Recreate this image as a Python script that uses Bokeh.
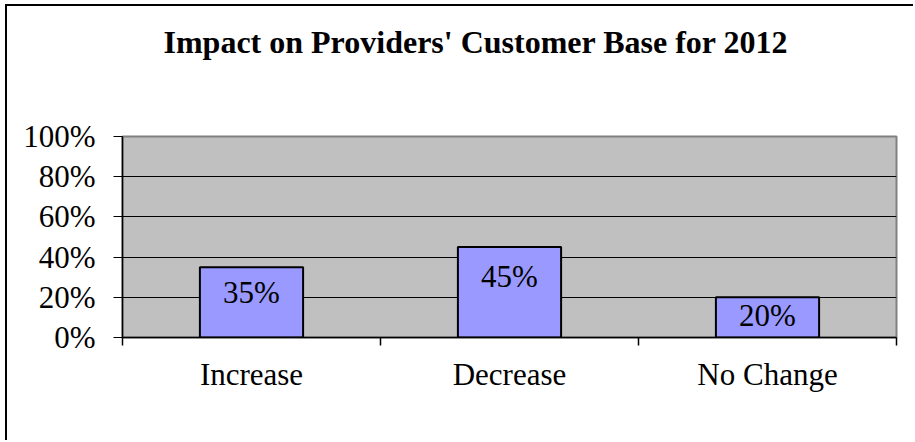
from bokeh.plotting import figure
from bokeh.models import Range1d, FixedTicker, NumeralTickFormatter, ColumnDataSource, Title
from bokeh.core.properties import value
from bokeh.embed import file_html
from bokeh.resources import INLINE

# ---- data ----
title_text = "Impact on Providers' Customer Base for 2012"
categories = ["Increase", "Decrease", "No Change"]
shares = [0.35, 0.45, 0.20]
y_ticks = [0.0, 0.2, 0.4, 0.6, 0.8, 1.0]

FONT = "Liberation Serif"

xpos = [i + 0.5 for i in range(len(categories))]
src = ColumnDataSource(dict(
    x=xpos,
    top=shares,
    label_y=[v * 0.78 for v in shares],
    label=[f"{round(v * 100)}%" for v in shares],
))

p = figure(width=908, height=436, output_backend="svg", toolbar_location=None,
           x_range=Range1d(0, len(categories)), y_range=Range1d(0, 1),
           min_border_left=115, min_border_right=19, min_border_top=130, min_border_bottom=105)
p.styles = {"margin-left": "5px", "margin-top": "4px",
            "border-left": "2px solid black", "border-top": "2px solid black"}

p.background_fill_color = "#C0C0C0"
p.border_fill_color = "white"
p.outline_line_color = "#808080"
p.outline_line_width = 2

# title
p.title.text = title_text
p.title.text_font = FONT
p.title.text_font_size = "32px"
p.title.text_font_style = "bold"
p.title.text_color = "black"
p.title.align = "left"
p.title.offset = 41
p.title.vertical_align = "top"
p.title.standoff = 24
# blank spacer between the title and the plot area
p.add_layout(Title(text=" ", text_font_size="1px", standoff=60), "above")

# grid
p.xgrid.visible = False
p.ygrid.ticker = FixedTicker(ticks=y_ticks[1:-1])
p.ygrid.grid_line_color = "black"
p.ygrid.grid_line_width = 1

# y axis
ya = p.yaxis[0]
ya.ticker = FixedTicker(ticks=y_ticks, minor_ticks=[])
ya.formatter = NumeralTickFormatter(format="0%")
ya.major_tick_out = 9
ya.major_tick_in = 0
ya.minor_tick_out = 0
ya.minor_tick_in = 0
ya.major_tick_line_color = "black"
ya.axis_line_color = "black"
ya.axis_line_width = 1.5
ya.major_label_text_font = FONT
ya.major_label_text_font_size = "31px"
ya.major_label_text_color = "black"
ya.major_label_standoff = 18

# x axis: labels at category centres, ticks at boundaries
xa = p.xaxis[0]
xa.ticker = FixedTicker(ticks=xpos, minor_ticks=list(range(len(categories) + 1)))
xa.major_label_overrides = {x: c for x, c in zip(xpos, categories)}
xa.major_tick_out = 0
xa.major_tick_in = 0
xa.minor_tick_out = 8
xa.minor_tick_in = 0
xa.minor_tick_line_color = "black"
xa.minor_tick_line_width = 1.5
xa.axis_line_color = "black"
xa.axis_line_width = 1.5
xa.major_label_text_font = FONT
xa.major_label_text_font_size = "31px"
xa.major_label_text_color = "black"
xa.major_label_standoff = 11

# bars
p.vbar(x="x", top="top", width=0.4, source=src,
       fill_color="#9999FF", line_color="black", line_width=2)

# data labels
p.text(x="x", y="label_y", text="label", source=src,
       text_align="center", text_baseline="top", y_offset=-8,
       text_font=value(FONT), text_font_size="31px", text_color="black")

open("out.html", "w").write(file_html(p, INLINE))
